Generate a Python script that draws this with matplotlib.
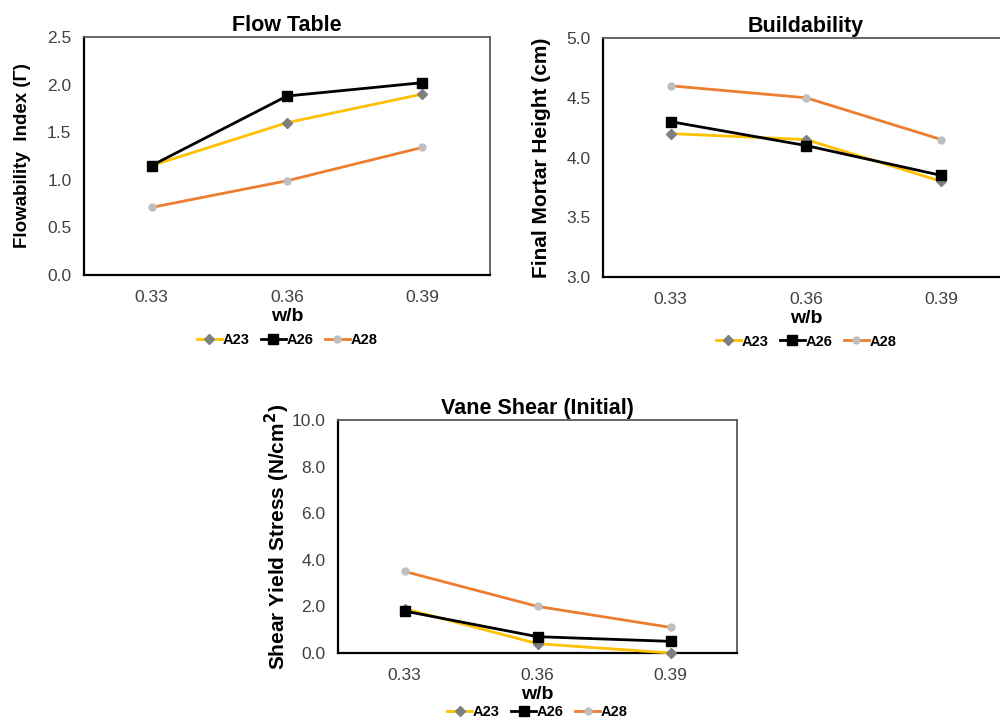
import matplotlib
matplotlib.use("Agg")
import matplotlib.pyplot as plt
from matplotlib.lines import Line2D

plt.rcParams['font.family'] = ['Liberation Sans', 'DejaVu Sans']

wb = ["0.33", "0.36", "0.39"]
series = ["A23", "A26", "A28"]

flow_a23 = [1.15, 1.60, 1.90]
flow_a26 = [1.15, 1.88, 2.02]
flow_a28 = [0.71, 0.99, 1.34]

build_a23 = [4.20, 4.15, 3.80]
build_a26 = [4.30, 4.10, 3.85]
build_a28 = [4.60, 4.50, 4.15]

vane_a23 = [1.9, 0.4, 0.0]
vane_a26 = [1.8, 0.7, 0.5]
vane_a28 = [3.5, 2.0, 1.1]

# line colour, marker, marker colour, marker size
styles = {
    "A23": ("#FFC000", "D", "#7F7F7F", 5),
    "A26": ("#000000", "s", "#000000", 7),
    "A28": ("#ED7D31", "o", "#BFBFBF", 5),
}

W, H = 1000, 724
fig = plt.figure(figsize=(10, 7.24), dpi=100)


def px_axes(left, top, right, bottom):
    return fig.add_axes([left / W, 1 - bottom / H, (right - left) / W, (bottom - top) / H])


def draw(ax, data, title, ylabel, ylim, yticks, legend_y, ylabel_size=15):
    x = range(len(wb))
    for name, vals in zip(series, data):
        lc, mk, mc, ms = styles[name]
        ax.plot(x, vals, color=lc, lw=2.0, marker=mk, markersize=ms,
                markerfacecolor=mc, markeredgecolor=mc, zorder=3, clip_on=False)
    ax.set_xlim(-0.5, len(wb) - 0.5)
    ax.set_ylim(*ylim)
    ax.set_xticks(list(x))
    ax.set_xticklabels(wb)
    ax.set_yticks(yticks)
    ax.set_yticklabels(["%.1f" % v for v in yticks])
    ax.tick_params(length=0, labelsize=12.5, labelcolor="#404040")
    ax.tick_params(axis="y", pad=9)
    ax.tick_params(axis="x", pad=11)
    for s in ["left", "bottom"]:
        ax.spines[s].set_color("#000000")
        ax.spines[s].set_linewidth(1.6)
    for s in ["top", "right"]:
        ax.spines[s].set_color("#595959")
        ax.spines[s].set_linewidth(1.3)
    ax.set_title(title, fontsize=15.5, fontweight="bold", pad=4)
    ax.set_ylabel(ylabel, fontsize=ylabel_size, fontweight="bold", va="center")
    ax.yaxis.set_label_coords(-0.152, 0.5)
    ax.set_xlabel("w/b", fontsize=14, fontweight="bold", labelpad=2)
    handles = []
    for name in series:
        lc, mk, mc, ms = styles[name]
        handles.append(Line2D([0], [0], color=lc, lw=2.0, marker=mk, markersize=ms,
                              markerfacecolor=mc, markeredgecolor=mc))
    ax.legend(handles, series, loc="center", bbox_to_anchor=(0.5, legend_y),
              ncol=3, frameon=False, handlelength=1.7,
              handletextpad=0.05, columnspacing=0.8,
              prop={"weight": "bold", "size": 10.5})


ax1 = px_axes(84, 37, 490, 275)
draw(ax1, [flow_a23, flow_a26, flow_a28], "Flow Table", "Flowability  Index (Γ)",
     (0, 2.5), [0, 0.5, 1.0, 1.5, 2.0, 2.5], -0.275, ylabel_size=13.5)

ax2 = px_axes(603, 38, 1009, 277)
draw(ax2, [build_a23, build_a26, build_a28], "Buildability", "Final Mortar Height (cm)",
     (3.0, 5.0), [3.0, 3.5, 4.0, 4.5, 5.0], -0.27)

ax3 = px_axes(338, 420, 737, 653)
draw(ax3, [vane_a23, vane_a26, vane_a28], "Vane Shear (Initial)",
     "Shear Yield Stress (N/cm$^\\mathbf{2}$)",
     (0, 10), [0, 2, 4, 6, 8, 10], -0.255)

fig.savefig("out.png", dpi=100)
